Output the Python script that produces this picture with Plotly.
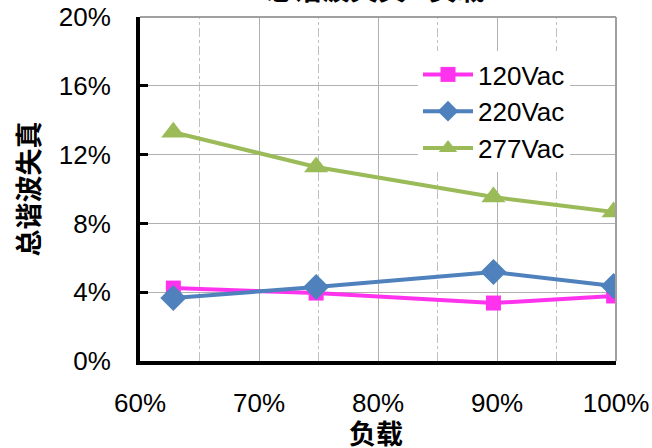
import plotly.graph_objects as go

load = [0.628, 0.748, 0.897, 0.998]
thd_120 = [0.0424, 0.0395, 0.0337, 0.0378]
thd_220 = [0.0366, 0.0430, 0.0517, 0.0436]
thd_277 = [0.133, 0.1128, 0.0953, 0.0866]

x_ticks = [0.6, 0.7, 0.8, 0.9, 1.0]
x_tick_labels = ["60%", "70%", "80%", "90%", "100%"]
y_ticks = [0, 0.04, 0.08, 0.12, 0.16, 0.20]
y_tick_labels = ["0%", "4%", "8%", "12%", "16%", "20%"]
minor_grid = [0.65, 0.75, 0.85, 0.95]

fig = go.Figure()
fig.add_trace(go.Scatter(x=load, y=thd_120, name="120Vac", mode="lines+markers",
                         line=dict(color="#FF33EE", width=4),
                         marker=dict(symbol="square", size=15, color="#FF33EE")))
fig.add_trace(go.Scatter(x=load, y=thd_220, name="220Vac", mode="lines+markers",
                         line=dict(color="#4F81BD", width=4),
                         marker=dict(symbol="diamond", size=20, color="#4F81BD")))
fig.add_trace(go.Scatter(x=load, y=thd_277, name="277Vac", mode="lines+markers",
                         line=dict(color="#9BBB59", width=4),
                         marker=dict(symbol="triangle-up", size=21, color="#9BBB59")))

for g in minor_grid:
    fig.add_shape(type="line", xref="x", yref="paper", x0=g, x1=g, y0=0, y1=1,
                  line=dict(color="#C0C0C0", width=1, dash="dashdot"), layer="below")

fig.add_annotation(text="<b>总谐波失真 - 负载</b>", xref="paper", yref="paper",
                   x=(375 - 140) / 476, y=1 + (17 - 10) / 344, xanchor="center", yanchor="bottom",
                   showarrow=False, font=dict(family="Noto Sans CJK SC", size=28, color="black"))
fig.add_annotation(text="<b>负载</b>", xref="paper", yref="paper",
                   x=(376 - 140) / 476, y=-(432 - 361) / 344, xanchor="center", yanchor="middle",
                   showarrow=False, font=dict(family="Noto Sans CJK SC", size=27, color="black"))

fig.update_layout(
    width=652, height=448,
    margin=dict(l=140, r=36, t=17, b=87),
    paper_bgcolor="white", plot_bgcolor="white",
    font=dict(family="Liberation Sans, Arial", size=26, color="black"),
    showlegend=True,
    legend=dict(x=(418 - 140) / 476, y=(361 - 51) / 344, xanchor="left", yanchor="top",
                bgcolor="white", font=dict(size=26), itemwidth=50, tracegroupgap=0,
                borderwidth=0),
    xaxis=dict(range=[0.6, 1.0], tickvals=x_ticks, ticktext=x_tick_labels,
               showgrid=True, gridcolor="#B0B0B0", gridwidth=1, automargin=False,
               showline=True, linecolor="black", linewidth=4, mirror=False,
               ticks="", ticklabelstandoff=16),
    yaxis=dict(range=[0, 0.20], tickvals=y_ticks, ticktext=y_tick_labels,
               showgrid=True, gridcolor="#B0B0B0", gridwidth=1, automargin=False,
               showline=True, linecolor="black", linewidth=4,
               ticks="inside", ticklen=8, tickwidth=3, tickcolor="black",
               ticklabelstandoff=20,
               title=dict(text="<b>总谐波失真</b>", standoff=12,
                          font=dict(family="Noto Sans CJK SC", size=27))),
)
fig.add_shape(type="line", xref="paper", yref="paper", x0=1, x1=1, y0=0, y1=1,
              line=dict(color="#A0A0A0", width=2))
fig.add_shape(type="line", xref="paper", yref="paper", x0=0, x1=1, y0=1, y1=1,
              line=dict(color="#A0A0A0", width=2))

fig.write_html("out.html", config={"displayModeBar": False},
               post_script="document.body.style.margin='0';document.body.style.overflow='hidden';")
